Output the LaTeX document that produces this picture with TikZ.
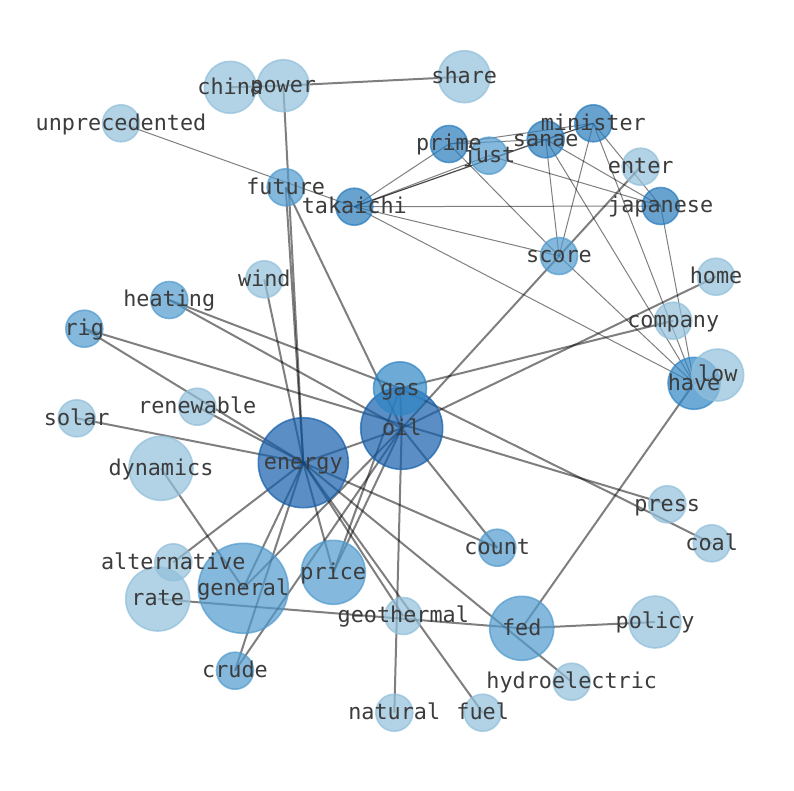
\documentclass[tikz,border=0pt]{standalone}
\usepackage{fontspec}
\newfontfamily\lblfont{DejaVu Sans Mono}
\pgfdeclarelayer{paper}
\pgfdeclarelayer{edges}
\pgfsetlayers{paper,edges,main}
\definecolor{cA}{HTML}{92C0DB}
\definecolor{cB}{HTML}{519BCE}
\definecolor{cC}{HTML}{3086C6}
\definecolor{cD}{HTML}{297CBD}
\definecolor{cE}{HTML}{155FAB}
\definecolor{txt}{HTML}{3C3C3C}
\tikzset{
  bub/.style={circle, inner sep=0pt, fill opacity=0.7, draw opacity=0.7, line width=1.6pt},
  lbl/.style={inner sep=0pt, text=txt, font=\lblfont\fontsize{21.8}{22}\selectfont, text height=1.62em, text depth=0.25em},
  ed/.style={draw=black, draw opacity=0.5, line width=2pt},
  edthin/.style={draw=black, draw opacity=0.5, line width=1pt}
}
\newcommand\wnd[5]{\node[bub, minimum size=#4*2, fill=#5, draw=#5] (#1) at (#2,#3) {};}
\newcommand\wlb[1]{\node[lbl] (t-#1) at (#1.center) {#1};}
\newcommand\thk[2]{\draw[ed] (#1.center) -- (#2.center);}
\newcommand\thn[2]{\draw[edthin] (#1.center) -- (#2.center);}
\begin{document}
\begin{tikzpicture}[x=1pt,y=-1pt]
\begin{pgfonlayer}{paper}
\fill[white] (0,0) rectangle (794,790);
\end{pgfonlayer}
\useasboundingbox (0,0) rectangle (794,790);
% ---------- bubbles ----------
\wnd{china}{230.3}{87.3}{26}{cA}
\wnd{power}{283.3}{85.7}{26}{cA}
\wnd{share}{464.3}{76.7}{26}{cA}
\wnd{unprecedented}{121}{123.3}{18.5}{cA}
\wnd{prime}{449}{144}{18.5}{cD}
\wnd{just}{489}{155.7}{18.5}{cB}
\wnd{sanae}{545.7}{139.3}{18.5}{cD}
\wnd{minister}{593.3}{123.3}{18.5}{cD}
\wnd{enter}{640.7}{166.7}{18.5}{cA}
\wnd{japanese}{660.7}{206}{18.5}{cD}
\wnd{takaichi}{354.3}{206.7}{18.5}{cD}
\wnd{future}{285.7}{187.3}{18.5}{cB}
\wnd{score}{559}{256}{18.5}{cB}
\wnd{home}{716}{276.7}{18.5}{cA}
\wnd{wind}{264.3}{279.3}{18.5}{cA}
\wnd{heating}{169.3}{300}{18.5}{cB}
\wnd{rig}{84.3}{328.7}{18.5}{cB}
\wnd{company}{673.3}{320.7}{18.5}{cA}
\wnd{have}{694}{383.3}{26}{cC}
\wnd{low}{717.7}{375}{26}{cA}
\wnd{oil}{401.7}{428.3}{41}{cE}
\wnd{gas}{400}{388.3}{26.5}{cC}
\wnd{renewable}{197.3}{406.7}{18.5}{cA}
\wnd{solar}{76.7}{418.3}{18.5}{cA}
\wnd{energy}{303.3}{462.7}{45}{cE}
\wnd{dynamics}{161}{468.3}{32}{cA}
\wnd{press}{667.3}{504.3}{18.5}{cA}
\wnd{coal}{711.7}{543.3}{18.5}{cA}
\wnd{count}{497.3}{547.7}{18.5}{cB}
\wnd{alternative}{173.3}{562.3}{18.5}{cA}
\wnd{price}{333.3}{572.3}{32}{cB}
\wnd{general}{243.3}{588.3}{45}{cB}
\wnd{rate}{157.7}{599}{32}{cA}
\wnd{geothermal}{403.3}{616}{18.5}{cA}
\wnd{fed}{521.7}{628.3}{32}{cB}
\wnd{policy}{655}{622}{26}{cA}
\wnd{crude}{235}{670.7}{18.5}{cB}
\wnd{hydroelectric}{571.7}{681.7}{18.5}{cA}
\wnd{natural}{394.3}{712.7}{18.5}{cA}
\wnd{fuel}{482.7}{712.7}{18.5}{cA}
% ---------- edges behind the bubbles ----------
\begin{pgfonlayer}{edges}
\thk{china}{power}
\thk{power}{share}
\thk{power}{energy}
\thk{future}{energy}
\thk{future}{oil}
\thk{wind}{energy}
\thk{heating}{gas}
\thk{heating}{oil}
\thk{rig}{energy}
\thk{rig}{press}
\thk{renewable}{energy}
\thk{solar}{energy}
\thk{dynamics}{general}
\thk{alternative}{energy}
\thk{energy}{oil}
\thk{energy}{general}
\thk{energy}{crude}
\thk{energy}{price}
\thk{energy}{count}
\thk{energy}{geothermal}
\thk{energy}{fuel}
\thk{energy}{hydroelectric}
\thk{oil}{general}
\thk{oil}{crude}
\thk{oil}{price}
\thk{gas}{price}
\thk{oil}{natural}
\thk{oil}{count}
\thk{gas}{coal}
\thk{gas}{company}
\thk{oil}{home}
\thk{enter}{oil}
\thk{rate}{fed}
\thk{fed}{policy}
\thk{fed}{have}
\thk{have}{low}
\thk{gas}{oil}
\thn{unprecedented}{takaichi}
\thn{takaichi}{prime}
\thn{takaichi}{just}
\thn{takaichi}{sanae}
\thn{takaichi}{minister}
\thn{takaichi}{japanese}
\thn{takaichi}{score}
\thn{takaichi}{have}
\thn{prime}{sanae}
\thn{prime}{minister}
\thn{prime}{score}
\thn{just}{japanese}
\thn{sanae}{minister}
\thn{sanae}{score}
\thn{sanae}{japanese}
\thn{sanae}{have}
\thn{minister}{score}
\thn{minister}{japanese}
\thn{minister}{have}
\thn{japanese}{have}
\thn{score}{have}
\end{pgfonlayer}
% ---------- labels ----------
\foreach \w in {china,power,share,unprecedented,prime,just,sanae,minister,enter,japanese,takaichi,future,score,home,wind,heating,rig,company,have,low,gas,oil,renewable,solar,energy,dynamics,press,coal,count,alternative,price,general,rate,geothermal,fed,policy,crude,hydroelectric,natural,fuel}{\wlb{\w}}
\end{tikzpicture}
\end{document}
